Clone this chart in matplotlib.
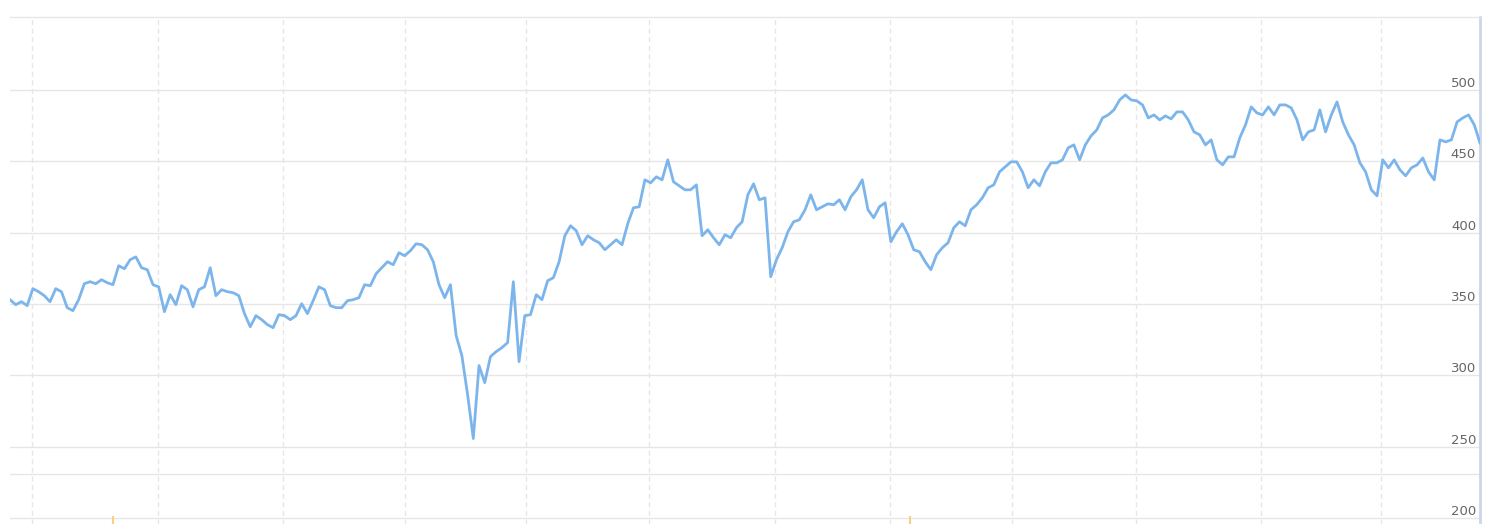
import numpy as np
import matplotlib.pyplot as plt
import matplotlib.transforms as mtransforms

plt.rcParams['lines.scale_dashes'] = False

# daily closing values (one per trading day)
prices = [
    353, 349.5, 351.6, 348.8, 360.7, 358.6, 355.8, 351.6, 360.7, 358.6,
    347.4, 345.3, 353, 364.2, 365.6, 364.2, 367, 364.9, 363.5, 376.8,
    374.7, 381, 383, 375.4, 374, 363.5, 362, 344.6, 356.5, 349.5,
    362.8, 360, 348, 360, 362, 375.4, 355.8, 360, 358.6, 357.9,
    355.8, 343.2, 334, 341.8, 339, 335.5, 333.4, 342.5, 341.8, 339,
    341.8, 350.2, 343.2, 352.3, 362, 360, 348.8, 347.4, 347.4, 352.3,
    353, 354.4, 363.5, 362.8, 371.2, 375.4, 379.6, 377.5, 385.9, 383.8,
    387.3, 392.2, 391.5, 388, 379.6, 363.5, 354.4, 363.5, 327.8, 313.8,
    286.5, 255.7, 306.8, 294.9, 313.1, 316.6, 319.4, 322.9, 365.6, 309.6,
    341.8, 342.5, 356.5, 353, 366.3, 368.4, 379.6, 397.8, 404.8, 401.3,
    391.5, 397.8, 395, 392.9, 388, 391.5, 395, 391.5, 406.2, 417.4,
    418.1, 437, 434.9, 439.1, 437, 451, 435.6, 432.8, 430, 430,
    433.5, 397.8, 402, 396.4, 391.5, 398.5, 396.4, 403.4, 407.6, 426.5,
    434.2, 423, 424.4, 369.1, 381, 389.4, 400.6, 407.6, 409, 416,
    426.5, 416, 418.1, 420.2, 419.5, 423, 416, 425.1, 430, 437,
    416, 410.4, 418.1, 420.9, 393.6, 400.6, 406.2, 398.5, 388, 386.6,
    379.6, 374, 384.5, 389.4, 392.9, 403.4, 407.6, 404.8, 416, 419.5,
    424.4, 431.4, 433.5, 442.6, 446.1, 449.6, 449.6, 442.6, 431.4, 437,
    432.8, 442.6, 448.9, 448.9, 451, 459.4, 461.5, 451, 461.5, 467.8,
    472, 480.4, 482.5, 486, 493, 496.5, 493, 492.3, 489.5, 480.4,
    482.5, 479, 481.8, 479.7, 484.6, 484.6, 479, 470.6, 468.5, 461.5,
    465, 451, 447.5, 453.1, 453.1, 466.4, 475.5, 488.1, 483.9, 482.5,
    488.1, 482.5, 489.5, 489.5, 487.4, 479, 465, 470.6, 472, 486,
    470.6, 482.5, 491.6, 477.6, 468.5, 461.5, 448.9, 442.6, 430, 425.8,
    451, 445.4, 451, 444, 439.8, 445.4, 447.5, 452.3, 442.6, 437,
    465, 463.6, 465, 477.6, 480.4, 482.5, 475.5, 462.9,
]

# month boundaries on the trading-day axis
month_starts = [3.85, 25.9, 47.7, 69.1, 90.2, 111.7, 133.7, 153.8, 175.2, 196.9, 218.7, 239.7]
y_ticks = [200, 250, 300, 350, 400, 450, 500]
y_tick_labels = ['200', '250', '300', '350', '400', '450', '500']
extra_line = 231.1
event_days = [18.0, 157.3]

days = np.arange(len(prices))

fig = plt.figure(figsize=(14.85, 5.24), dpi=100)
ax = fig.add_axes([10 / 1485, 0.0, 1470 / 1485, 507 / 524])

ax.set_xlim(0, len(prices) - 1)
ax.set_ylim(195.8, 551.1)

# horizontal grid
for v in y_ticks:
    ax.axhline(v, color='#e6e6e6', lw=1, zorder=1)
ax.axhline(extra_line, color='#e6e6e6', lw=1, zorder=1)

# vertical dashed grid
for d in month_starts:
    ax.axvline(d, color='#e6e6e6', lw=1, dashes=(3.6, 2.6), zorder=1)

# event ticks at the bottom
for d in event_days:
    ax.axvline(d, ymin=0, ymax=7 / 507, color='#f7cf85', lw=1.5, zorder=2)

ax.plot(days, prices, color='#7cb5ec', lw=2, zorder=3, solid_joinstyle='round')

# y labels inside the plot, right aligned above the grid lines
trans = mtransforms.blended_transform_factory(ax.transAxes, ax.transData)
for v, lab in zip(y_ticks, y_tick_labels):
    ax.annotate(lab, xy=(1.0, v), xycoords=trans, xytext=(-4, 3),
                textcoords='offset pixels', ha='right', va='baseline',
                fontsize=9.5, color='#666666')

ax.set_xticks([])
ax.set_yticks([])
for side in ['left', 'bottom']:
    ax.spines[side].set_visible(False)
ax.spines['top'].set_color('#e6e6e6')
ax.spines['top'].set_linewidth(1)
ax.spines['right'].set_color('#ccd6eb')
ax.spines['right'].set_linewidth(2)

fig.savefig('out.png', dpi=100)
plt.close(fig)
